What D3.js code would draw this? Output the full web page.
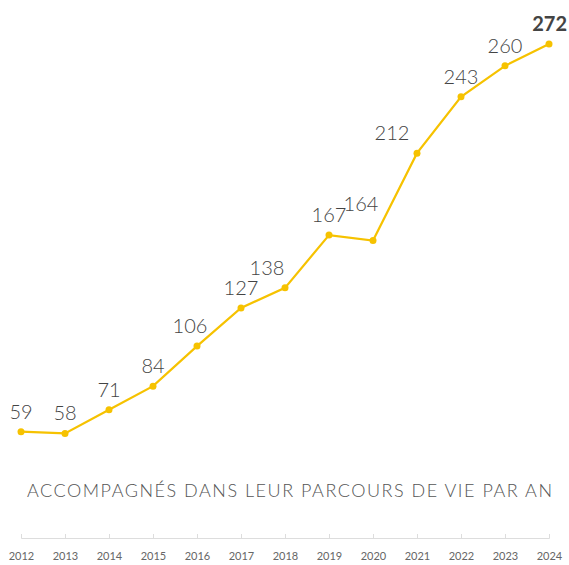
<!DOCTYPE html>
<html>
<head>
<meta charset="utf-8">
<script src="https://cdn.jsdelivr.net/npm/d3@7"></script>
<style>
	body { margin: 0; background: #fff; }
	text { font-family: Lato, "Open Sans", sans-serif; }
</style>
</head>
<body>
<div id="chart"></div>
<script>
var years = [2012, 2013, 2014, 2015, 2016, 2017, 2018, 2019, 2020, 2021, 2022, 2023, 2024];
var values = [59, 58, 71, 84, 106, 127, 138, 167, 164, 212, 243, 260, 272];
var title = "ACCOMPAGNÉS DANS LEUR PARCOURS DE VIE PAR AN";

// label nudges so labels don't sit on the line
var nudgeX = {2016: -7, 2018: -18, 2020: -12, 2021: -25};
var nudgeY = {2020: -17};

var colors = {
	line: '#f6c200',
	label: '#444',
	axis: '#ddd',
	tick: '#666'
}

var width = 569;
var height = 565;

var svg = d3.select("#chart")
	.append("svg")
	.attr("width", width)
	.attr("height", height);

var x = d3.scalePoint()
	.domain(years)
	.range([21, 549]);

var y = d3.scaleLinear()
	.domain([0, 272])
	.range([539, 44]);

var data = years.map(function(d, i) { return {year: d, value: values[i]}; });

// axis
var axis = svg.append('g')
	.attr('transform', 'translate(0,538)')
	.call(d3.axisBottom(x).tickSizeInner(-4).tickSizeOuter(-4).tickPadding(14));

axis.select('.domain').attr('stroke', colors.axis);
axis.selectAll('.tick line').attr('stroke', colors.axis);
axis.selectAll('.tick text')
	.attr('fill', colors.tick)
	.style('font-size', '11px');

// title
svg.append('text')
	.attr('x', 27)
	.attr('y', 497)
	.attr('textLength', 525)
	.attr('lengthAdjust', 'spacing')
	.attr('fill', '#555')
	.style('font-size', '18px')
	.style('font-weight', 300)
	.text(title);

var line = d3.line()
	.x(function(d) { return x(d.year); })
	.y(function(d) { return y(d.value); });

svg.append('path')
	.datum(data)
	.attr('d', line)
	.attr('fill', 'none')
	.attr('stroke', colors.line)
	.attr('stroke-width', 2.2);

svg.selectAll('circle.pt')
	.data(data)
	.enter()
	.append('circle')
	.attr('class', 'pt')
	.attr('cx', function(d) { return x(d.year); })
	.attr('cy', function(d) { return y(d.value); })
	.attr('r', 3.5)
	.attr('fill', colors.line);

svg.selectAll('text.lbl')
	.data(data)
	.enter()
	.append('text')
	.attr('class', 'lbl')
	.attr('x', function(d) { return x(d.year) + (nudgeX[d.year] || 0); })
	.attr('y', function(d) { return y(d.value) - 13 + (nudgeY[d.year] || 0); })
	.attr('text-anchor', function(d, i) { return i === data.length - 1 ? 'end' : 'middle'; })
	.attr('dx', function(d, i) { return i === data.length - 1 ? 18 : 0; })
	.attr('fill', colors.label)
	.style('font-size', '20px')
	.style('font-weight', function(d, i) { return i === data.length - 1 ? 700 : 300; })
	.text(function(d) { return d.value; });
</script>
</body>
</html>
